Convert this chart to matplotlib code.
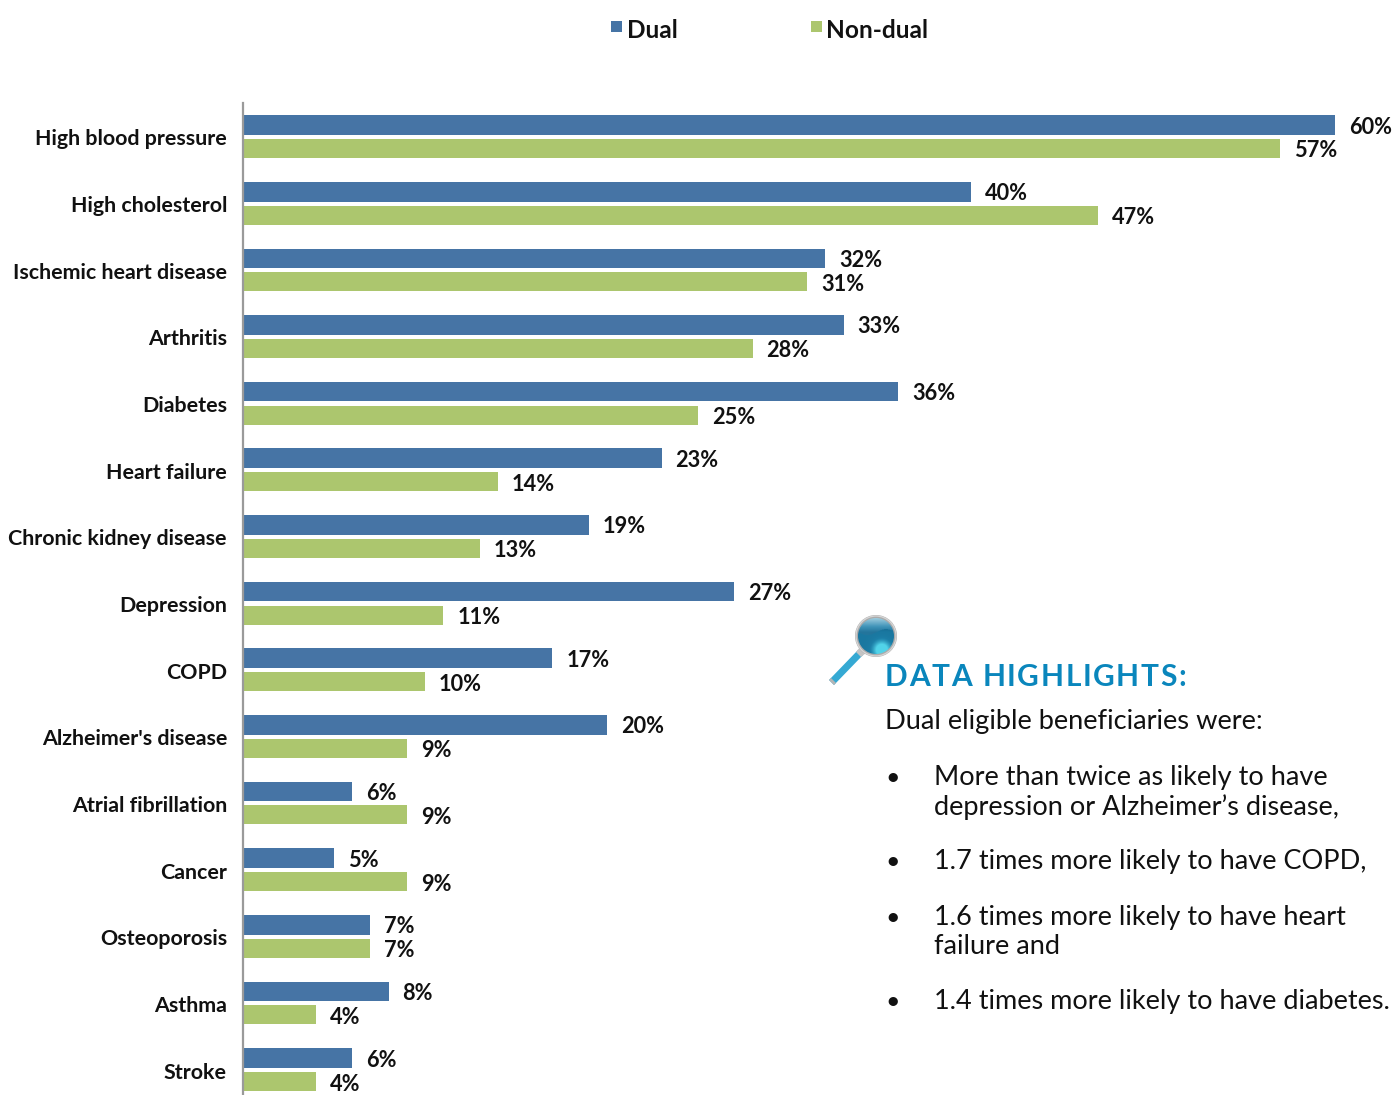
import matplotlib
matplotlib.use("Agg")
import matplotlib.pyplot as plt
from matplotlib.patches import Circle, Polygon, Rectangle
from matplotlib.colors import LinearSegmentedColormap
import numpy as np

W, H = 1395, 1095

categories = ["High blood pressure", "High cholesterol", "Ischemic heart disease",
              "Arthritis", "Diabetes", "Heart failure", "Chronic kidney disease",
              "Depression", "COPD", "Alzheimer's disease", "Atrial fibrillation",
              "Cancer", "Osteoporosis", "Asthma", "Stroke"]
dual = [60, 40, 32, 33, 36, 23, 19, 27, 17, 20, 6, 5, 7, 8, 6]
non_dual = [57, 47, 31, 28, 25, 14, 13, 11, 10, 9, 9, 9, 7, 4, 4]

bullets = ["More than twice as likely to have\ndepression or Alzheimer\u2019s disease,",
           "1.7 times more likely to have COPD,",
           "1.6 times more likely to have heart\nfailure and",
           "1.4 times more likely to have diabetes."]

BLUE = "#4674A5"
GREEN = "#ACC66E"
TEAL = "#0A86BC"
INK = "#111111"

plt.rcParams["font.family"] = ["Lato", "DejaVu Sans"]


def px(x, y):
    # pixel position in the reference -> figure fraction
    return x / W, 1 - y / H


def spaced_text(fig, x, y, s, extra, **kw):
    # matplotlib has no letter spacing, so place each letter after the measured prefix
    r = fig.canvas.get_renderer()
    for k, ch in enumerate(s):
        probe = fig.text(0, 0, s[:k] + "|", **kw)
        bar = fig.text(0, 0, "|", **kw)
        adv = probe.get_window_extent(r).width - bar.get_window_extent(r).width
        probe.remove()
        bar.remove()
        fig.text(*px(x + adv + k * extra, y), ch, va="baseline", ha="left", **kw)


fig = plt.figure(figsize=(W / 100, H / 100), dpi=100)

# axes pixel box: x from 243 to 1395, y from 103 to 1095
ax = fig.add_axes([243 / W, 0, (W - 243) / W, (H - 103) / H])
ax.set_xlim(0, (W - 243) / 18.2)
# category i sits at pixel 136.5 + 66.65 * i
ax.set_ylim((H - 136.5) / 66.65, (103 - 136.5) / 66.65)

y = np.arange(len(categories))
ax.barh(y - 0.172, dual, height=0.295, color=BLUE)
ax.barh(y + 0.18, non_dual, height=0.285, color=GREEN)

for i, cat in enumerate(categories):
    ax.annotate(f"{dual[i]}%", (dual[i], i - 0.172), xytext=(14, -2), textcoords="offset pixels",
                va="center", ha="left", fontsize=15.7, fontweight="bold", color=INK)
    ax.annotate(f"{non_dual[i]}%", (non_dual[i], i + 0.18), xytext=(14, -2.5), textcoords="offset pixels",
                va="center", ha="left", fontsize=15.7, fontweight="bold", color=INK)
    ax.annotate(cat, (0, i), xytext=(-16, -3), textcoords="offset pixels",
                va="center", ha="right", fontsize=15.4, fontweight="bold", color=INK,
                annotation_clip=False)

ax.set_yticks([])
ax.set_xticks([])
for s in ["top", "right", "bottom"]:
    ax.spines[s].set_visible(False)
ax.spines["left"].set_color("#9A9A9A")
ax.spines["left"].set_linewidth(1.6)
ax.patch.set_alpha(0)

# legend
for x0, col, name, tx in [(611, BLUE, "Dual", 627), (811, GREEN, "Non-dual", 826)]:
    fig.add_artist(Rectangle(px(x0, 32), 11 / W, 11 / H, color=col, lw=0))
    fig.text(*px(tx, 31), name, fontsize=17.6, fontweight="bold", color=INK, va="center", ha="left")

# data highlights
spaced_text(fig, 885, 686, "DATA HIGHLIGHTS:", 1.6, fontsize=21.5, fontweight="bold", color=TEAL)
fig.text(*px(885, 729.5), "Dual eligible beneficiaries were:", fontsize=19.6, color=INK,
         va="baseline", ha="left")
bullet_y = [784.5, 869.5, 924.5, 1009.5]
for b, by in zip(bullets, bullet_y):
    fig.text(*px(885, by), "\u2022", fontsize=18, color=INK, va="baseline", ha="left")
    lines = b.split("\n")
    for k, line in enumerate(lines):
        fig.text(*px(933.5, by + k * 30), line, fontsize=19.5, color=INK, va="baseline", ha="left")

# magnifying glass icon, drawn in pixel coordinates
icon = fig.add_axes([0, 0, 1, 1], zorder=5)
icon.axis("off")
icon.add_patch(Polygon([(829, 680), (858, 650), (863, 655), (834, 685)], color="#35A9D3", lw=0))
icon.add_patch(Polygon([(829, 680), (831, 678), (836, 683), (834, 685)], color="#B5B5B5", lw=0))
icon.add_patch(Polygon([(856, 652), (860, 647), (866, 653), (861, 657)], color="#C4C4C4", lw=0))
icon.add_patch(Circle((876, 636), 21, color="#ABABAB", lw=0))
icon.add_patch(Circle((876, 636), 20, fill=False, ec="#D5D5D5", lw=1))
# lens shading: pale sky at the top, dark band in the middle, cyan glow at the bottom
gx, gy = np.meshgrid(np.linspace(856, 896, 80), np.linspace(616, 656, 80))
wave = 632 + 3 * np.sin((gx - 858) / 6)
shade = np.clip((gy - 618) / 14, 0, 1) * 0.45 + 0.3 * (gy > wave)
shade = shade + 0.55 * np.exp(-((gx - 882) ** 2 + (gy - 650) ** 2) / 70)
lens_cmap = LinearSegmentedColormap.from_list(
    "lens", ["#9CCBDE", "#3F93B8", "#14648C", "#1C7FA8", "#52D4EA"])
lens = icon.imshow(shade, extent=(856, 896, 656, 616), cmap=lens_cmap, vmin=0, vmax=1.1,
                   aspect="auto", origin="upper", zorder=3)
lens.set_clip_path(Circle((876, 636), 18, transform=icon.transData))
icon.set_xlim(0, W)
icon.set_ylim(H, 0)

fig.savefig("out.png", dpi=100)
